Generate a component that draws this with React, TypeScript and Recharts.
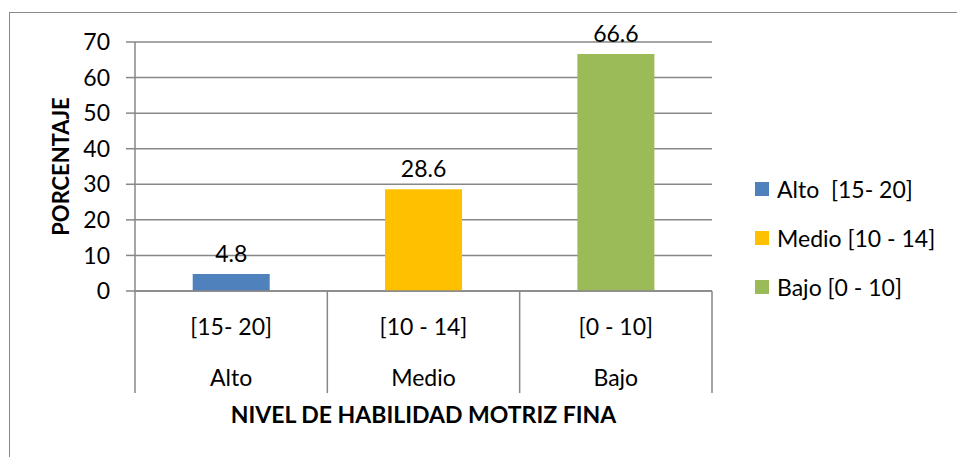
import { Bar, BarChart, CartesianGrid, Cell, LabelList, XAxis, YAxis } from "recharts";

const categories = ["Alto", "Medio", "Bajo"];
const ranges = ["[15- 20]", "[10 - 14]", "[0 - 10]"];
const percentages = [4.8, 28.6, 66.6];
const legendLabels = ["Alto  [15- 20]", "Medio [10 - 14]", "Bajo [0 - 10]"];
const colors = ["#4F81BD", "#FFC000", "#9BBB59"];
const yTicks = [0, 10, 20, 30, 40, 50, 60, 70];

const data = categories.map((name, i) => ({ name, range: ranges[i], value: percentages[i] }));

const FONT = "Lato, 'Open Sans', sans-serif";
const GRID = "#878787";
const TEXT = "#000";

function CategoryTick(props: any) {
  const { x, y, payload, index, width, visibleTicksCount } = props;
  const half = width / visibleTicksCount / 2;
  const item = data[index] ?? data.find((d) => d.range === payload.value);
  return (
    <g>
      <line x1={x - half} y1={y} x2={x - half} y2={y + 102} stroke={GRID} strokeWidth={1.5} />
      {index === visibleTicksCount - 1 && (
        <line x1={x + half} y1={y} x2={x + half} y2={y + 102} stroke={GRID} strokeWidth={1.5} />
      )}
      <text x={x} y={y + 44} textAnchor="middle" fontSize={23} fill={TEXT} fontFamily={FONT}>
        {payload.value}
      </text>
      <text x={x} y={y + 95} textAnchor="middle" fontSize={23} fill={TEXT} fontFamily={FONT}>
        {item?.name}
      </text>
    </g>
  );
}

export default function App() {
  return (
    <div style={{ position: "fixed", left: 0, top: 0, width: 957, height: 457, overflow: "hidden", background: "#fff" }}>
      <div
        style={{
          position: "absolute",
          left: 9,
          top: 12,
          width: 1000,
          height: 500,
          border: "1.5px solid #8a8a8a",
        }}
      />
      <div style={{ position: "absolute", left: 0, top: 0 }}>
        <BarChart
          width={957}
          height={457}
          data={data}
          margin={{ top: 42, right: 245, bottom: 26, left: 55 }}
          barCategoryGap="30%"
        >
          <CartesianGrid vertical={false} stroke={GRID} strokeWidth={1.5} />
          <XAxis
            dataKey="range"
            height={140}
            axisLine={{ stroke: GRID, strokeWidth: 1.5 }}
            tickLine={false}
            tickSize={0}
            tickMargin={0}
            interval={0}
            tick={<CategoryTick />}
            label={{
              content: ({ viewBox }: any) => (
                <text
                  x={viewBox.x + viewBox.width / 2}
                  y={viewBox.y + 132}
                  textAnchor="middle"
                  fontSize={23}
                  fontWeight="bold"
                  fill={TEXT}
                  fontFamily={FONT}
                >
                  NIVEL DE HABILIDAD MOTRIZ FINA
                </text>
              ),
            }}
          />
          <YAxis
            width={80}
            domain={[0, 70]}
            ticks={yTicks}
            interval={0}
            axisLine={{ stroke: GRID, strokeWidth: 1.5 }}
            tickLine={{ stroke: GRID, strokeWidth: 1.5 }}
            tickSize={9}
            tickMargin={16}
            tick={{ fontSize: 23, fill: TEXT, fontFamily: FONT }}
            label={{
              content: ({ viewBox }: any) => {
                const cx = viewBox.x + 5;
                const cy = viewBox.y + viewBox.height / 2;
                return (
                  <text
                    x={cx}
                    y={cy}
                    transform={`rotate(-90 ${cx} ${cy})`}
                    textAnchor="middle"
                    dominantBaseline="central"
                    fontSize={22}
                    fontWeight="bold"
                    fill={TEXT}
                    fontFamily={FONT}
                  >
                    PORCENTAJE
                  </text>
                );
              },
            }}
          />
          <Bar dataKey="value" isAnimationActive={false}>
            {data.map((d, i) => (
              <Cell key={d.name} fill={colors[i]} />
            ))}
            <LabelList
              dataKey="value"
              position="top"
              offset={12}
              style={{ fontSize: 23, fill: TEXT, fontFamily: FONT }}
            />
          </Bar>
        </BarChart>
      </div>
      <div style={{ position: "absolute", left: 755, top: 174, fontFamily: FONT, fontSize: 23, color: TEXT }}>
        {legendLabels.map((label, i) => (
          <div key={label} style={{ display: "flex", alignItems: "center", height: 30, marginBottom: 19 }}>
            <span style={{ width: 14, height: 14, background: colors[i], marginRight: 8, flexShrink: 0 }} />
            <span style={{ whiteSpace: "pre" }}>{label}</span>
          </div>
        ))}
      </div>
    </div>
  );
}
